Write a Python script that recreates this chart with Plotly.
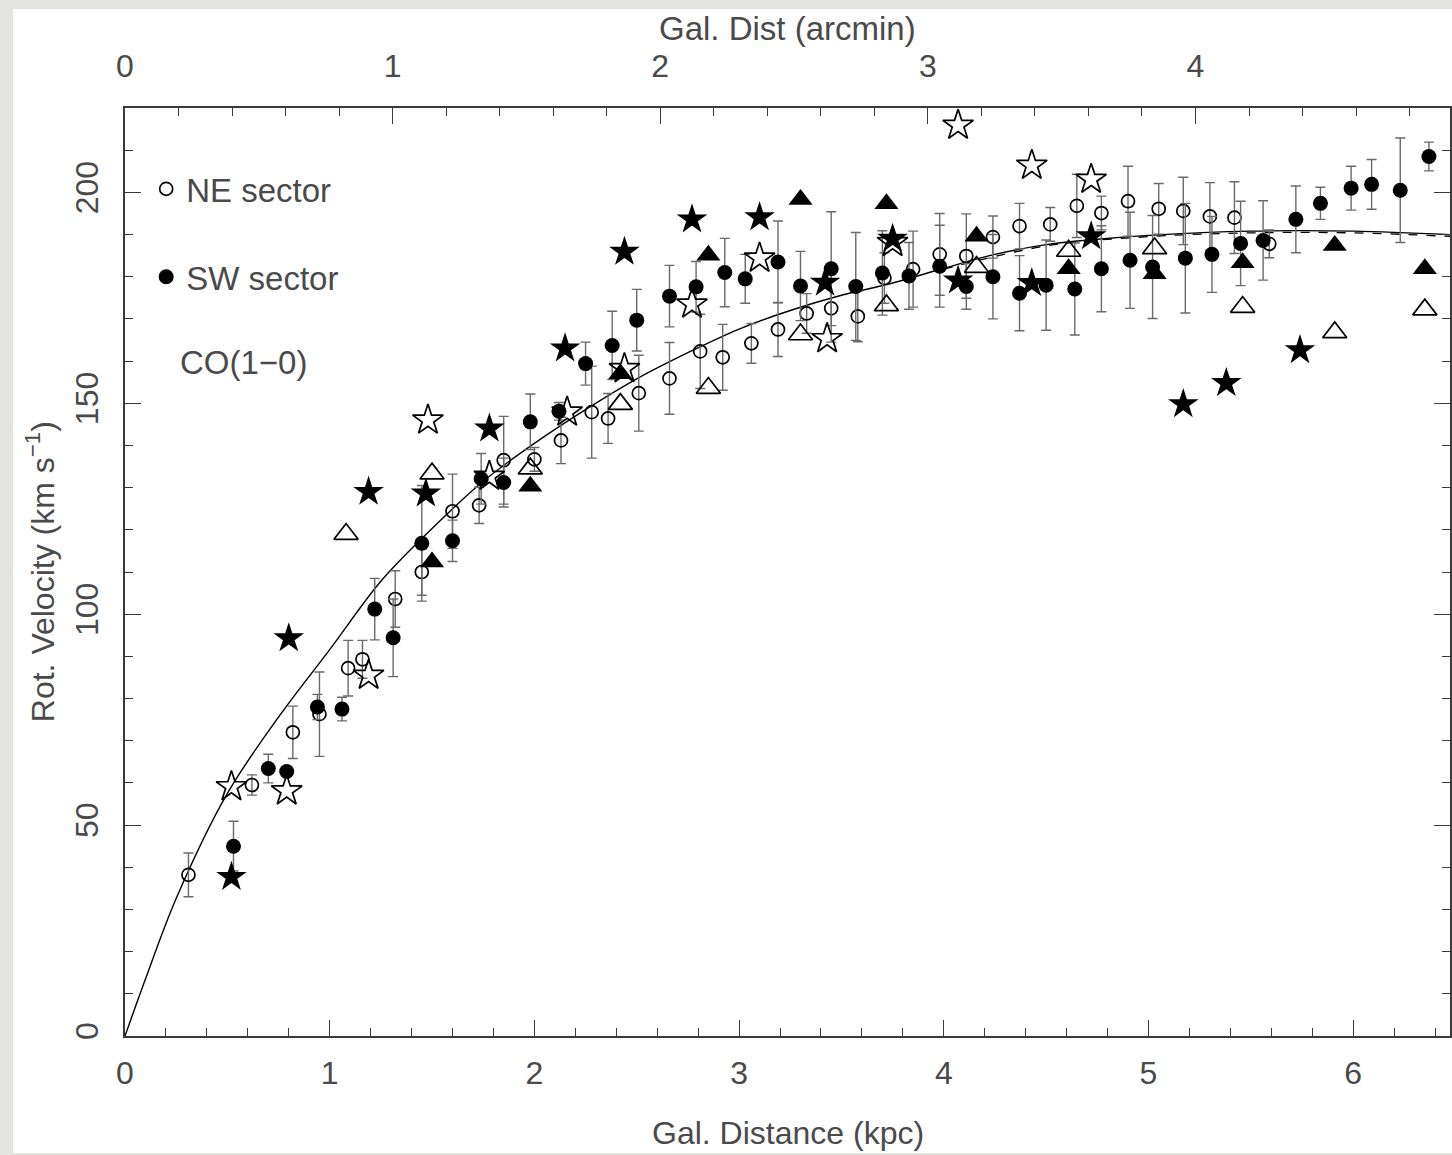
import plotly.graph_objects as go

# ---------------- data ----------------
# Model rotation curve (kpc, km/s)
MODEL_R = [0, 0.1, 0.25, 0.5, 0.75, 1.0, 1.25, 1.5, 1.75, 2.0, 2.25, 2.5, 2.75,
           3.0, 3.25, 3.5, 3.75, 4.0, 4.25, 4.5, 4.75, 5.0, 5.5, 6.0, 6.5]
MODEL_V = [0, 13.5, 32.6, 57.5, 75.6, 91.6, 107.8, 120.3, 131.5, 140.5, 148.5, 155.8, 162.0,
           167.6, 172.0, 175.6, 178.5, 182.0, 185.3, 187.6, 188.9, 189.8, 190.8, 190.8, 189.9]
# second (dashed) model curve, visible only at large radius
DASH_R = [4.0, 4.5, 5.0, 5.5, 6.0, 6.5]
DASH_V = [181.8, 187.3, 189.5, 190.4, 190.4, 189.5]

# NE sector (open circles)
NE_R = [0.31, 0.62, 0.82, 0.95, 1.09, 1.16, 1.32, 1.45, 1.60, 1.73, 1.85, 2.00, 2.13, 2.28,
        2.36, 2.51, 2.66, 2.81, 2.92, 3.06, 3.19, 3.33, 3.45, 3.58, 3.71, 3.85, 3.98, 4.11,
        4.24, 4.37, 4.52, 4.65, 4.77, 4.90, 5.05, 5.17, 5.30, 5.42, 5.59]
NE_V = [38.2, 59.5, 72.0, 76.3, 87.2, 89.3, 103.6, 110.0, 124.4, 125.8, 136.5, 136.7, 141.2,
        147.9, 146.4, 152.4, 155.9, 162.3, 160.9, 164.2, 167.5, 171.3, 172.5, 170.6, 179.7,
        181.8, 185.3, 184.9, 189.4, 192.0, 192.4, 196.8, 195.1, 197.9, 196.1, 195.6, 194.3,
        194.0, 187.8]
NE_E = [5.2, 2.4, 6.2, 10.0, 6.6, 4.5, 6.7, 5.5, 8.8, 4.3, 10.4, 2.8, 5.5, 10.9, 5.9, 9.0,
        8.5, 8.8, 7.8, 4.7, 6.4, 4.7, 8.0, 6.0, 6.0, 9.0, 9.7, 10.0, 5.0, 5.4, 4.0, 7.5, 4.0,
        8.3, 6.0, 8.0, 8.0, 8.5, 3.3]

# SW sector (filled circles)
SW_R = [0.53, 0.70, 0.79, 0.94, 1.06, 1.22, 1.31, 1.45, 1.60, 1.74, 1.85, 1.98, 2.12, 2.25,
        2.38, 2.50, 2.66, 2.79, 2.93, 3.03, 3.19, 3.30, 3.45, 3.57, 3.70, 3.83, 3.98, 4.11,
        4.24, 4.37, 4.50, 4.64, 4.77, 4.91, 5.02, 5.18, 5.31, 5.45, 5.56, 5.72, 5.84, 5.99,
        6.09, 6.23, 6.37]
SW_V = [45.0, 63.4, 62.7, 78.0, 77.5, 101.2, 94.4, 116.8, 117.4, 132.1, 131.2, 145.6, 148.1,
        159.4, 163.7, 169.7, 175.4, 177.6, 181.0, 179.5, 183.5, 177.8, 181.9, 177.7, 180.9,
        180.2, 182.5, 177.7, 180.0, 176.1, 178.0, 177.1, 181.9, 183.9, 182.3, 184.4, 185.3,
        187.9, 188.6, 193.6, 197.4, 201.0, 201.9, 200.5, 208.5]
SW_E = [5.9, 3.4, 0, 3.0, 2.8, 7.3, 9.2, 13.7, 4.9, 6.0, 5.8, 6.6, 2.1, 5.1, 8.1, 7.3, 7.3,
        6.0, 8.1, 5.8, 9.7, 8.2, 13.5, 12.8, 10.0, 7.9, 9.7, 5.4, 10.0, 8.9, 10.7, 10.9, 10.2,
        11.4, 12.2, 13.0, 9.0, 10.0, 9.4, 7.9, 3.8, 5.2, 5.9, 12.4, 3.4]

# filled stars
FS_R = [0.52, 0.80, 1.19, 1.47, 1.78, 2.15, 2.44, 2.77, 3.10, 3.42, 3.75, 4.07, 4.43, 4.72,
        5.17, 5.38, 5.74]
FS_V = [37.7, 94.3, 129.0, 128.6, 144.0, 163.0, 185.9, 193.6, 194.1, 178.6, 189.0, 179.1,
        178.5, 189.6, 149.8, 154.8, 162.6]
# open stars
OS_R = [0.52, 0.79, 1.19, 1.48, 1.78, 2.16, 2.44, 2.77, 3.10, 3.43, 3.75, 4.07, 4.43, 4.72]
OS_V = [59.1, 58.1, 85.5, 146.0, 132.7, 147.9, 158.2, 173.5, 184.4, 165.3, 188.1, 215.9,
        206.4, 203.1]
# filled triangles
FT_R = [1.50, 1.98, 2.42, 2.85, 3.30, 3.72, 4.16, 4.61, 5.03, 5.46, 5.91, 6.35]
FT_V = [112.4, 130.3, 157.0, 185.1, 198.3, 197.3, 189.6, 181.9, 180.7, 183.3, 187.4, 181.9]
# open triangles
OT_R = [1.08, 1.50, 1.98, 2.42, 2.85, 3.30, 3.72, 4.16, 4.61, 5.03, 5.46, 5.91, 6.35]
OT_V = [119.0, 133.3, 134.5, 149.8, 153.6, 166.3, 173.2, 182.3, 186.1, 186.7, 172.8, 166.8,
        172.2]

# axes
KPC_TICKS = [0, 1, 2, 3, 4, 5, 6]
KPC_MAX = 6.473
ARCMIN_TICKS = [0, 1, 2, 3, 4]
ARCMIN_MAX = 4.951
V_TICKS = [0, 50, 100, 150, 200]
V_MAX = 220

# ---------------- styling ----------------
FONT = "Liberation Sans, Arial, DejaVu Sans, sans-serif"
TXT = "#4a4a4a"
AX = "#3a3a3a"
ERR = "#6a6a6a"

fig = go.Figure()

fig.add_trace(go.Scatter(x=MODEL_R, y=MODEL_V, mode="lines", line=dict(color="black", width=1.4, shape="spline"),
                         showlegend=False, hoverinfo="skip"))
fig.add_trace(go.Scatter(x=DASH_R, y=DASH_V, mode="lines", line=dict(color="black", width=1.3, dash="dash", shape="spline"),
                         showlegend=False, hoverinfo="skip"))

fig.add_trace(go.Scatter(x=NE_R, y=NE_V, mode="markers", name="NE sector", legendgroup="ne",
                         marker=dict(symbol="circle-open", size=13, color="black", line=dict(width=1.7)),
                         error_y=dict(type="data", array=NE_E, color=ERR, thickness=1.4, width=5)))
fig.add_trace(go.Scatter(x=SW_R, y=SW_V, mode="markers", name="SW sector", legendgroup="sw",
                         marker=dict(symbol="circle", size=15, color="black"),
                         error_y=dict(type="data", array=SW_E, color=ERR, thickness=1.4, width=5)))
fig.add_trace(go.Scatter(x=FS_R, y=FS_V, mode="markers", showlegend=False,
                         marker=dict(symbol="star", size=23, color="black")))
fig.add_trace(go.Scatter(x=OS_R, y=OS_V, mode="markers", showlegend=False,
                         marker=dict(symbol="star-open", size=23, color="black", line=dict(width=1.7))))
fig.add_trace(go.Scatter(x=FT_R, y=FT_V, mode="markers", showlegend=False,
                         marker=dict(symbol="triangle-up", size=21, color="black")))
fig.add_trace(go.Scatter(x=OT_R, y=OT_V, mode="markers", showlegend=False,
                         marker=dict(symbol="triangle-up-open", size=21, color="black", line=dict(width=1.7))))
# anchor trace for the top (arcmin) axis
fig.add_trace(go.Scatter(x=[ARCMIN_TICKS[0]], y=[V_TICKS[0]], xaxis="x2", yaxis="y", mode="markers",
                         marker=dict(opacity=0), showlegend=False, hoverinfo="skip"))

tickfont = dict(family=FONT, size=32, color=TXT)

fig.update_layout(
    width=1452, height=1155,
    margin=dict(l=125, r=0, t=108, b=119),
    paper_bgcolor="#e3e3e0",
    plot_bgcolor="white",
    font=dict(family=FONT, color=TXT),
    xaxis=dict(range=[0, KPC_MAX], tickvals=KPC_TICKS, ticks="inside", ticklen=16, tickwidth=1.2,
               tickcolor=AX, showline=True, linecolor=AX, linewidth=1.5, showgrid=False, zeroline=False,
               minor=dict(tickmode="linear", tick0=0, dtick=0.2, ticks="inside", ticklen=8, tickcolor=AX),
               tickfont=tickfont, ticklabelstandoff=8),
    xaxis2=dict(overlaying="x", side="top", anchor="y", range=[0, ARCMIN_MAX], tickvals=ARCMIN_TICKS,
                ticks="inside", ticklen=16, tickwidth=1.2, tickcolor=AX, showline=True, linecolor=AX,
                linewidth=1.5, showgrid=False, zeroline=False,
                minor=dict(tickmode="linear", tick0=0, dtick=0.2, ticks="inside", ticklen=8, tickcolor=AX),
                tickfont=tickfont, ticklabelstandoff=16),
    yaxis=dict(range=[0, V_MAX], tickvals=V_TICKS, ticks="inside", ticklen=16, tickwidth=1.2,
               tickcolor=AX, showline=True, linecolor=AX, linewidth=1.5, mirror="ticks",
               showgrid=False, zeroline=False, tickangle=-90,
               minor=dict(tickmode="linear", tick0=0, dtick=10, ticks="inside", ticklen=8, tickcolor=AX),
               tickfont=tickfont, ticklabelstandoff=12),
    legend=dict(x=0.016, y=0.943, xanchor="left", yanchor="top", bgcolor="rgba(0,0,0,0)",
                font=dict(family=FONT, size=33, color=TXT), traceorder="grouped",
                itemwidth=30, tracegroupgap=42),
    showlegend=True,
    shapes=[dict(type="rect", xref="paper", yref="paper", x0=-0.0844, x1=1.01, y0=-0.126, y1=1.1067,
                 fillcolor="white", line=dict(width=0), layer="below")],
    annotations=[
        dict(text="Gal. Distance (kpc)", xref="paper", yref="paper", x=0.5, y=-0.104,
             showarrow=False, font=dict(family=FONT, size=32, color=TXT), xanchor="center", yanchor="middle"),
        dict(text="Gal. Dist (arcmin)", xref="paper", yref="paper", x=0.5, y=1.086,
             showarrow=False, font=dict(family=FONT, size=33, color=TXT), xanchor="center", yanchor="middle"),
        dict(text="Rot. Velocity (km s<sup>−1</sup>)", xref="paper", yref="paper", x=-0.064, y=0.5,
             textangle=-90, showarrow=False, font=dict(family=FONT, size=32, color=TXT),
             xanchor="center", yanchor="middle"),
        dict(text="CO(1−0)", xref="paper", yref="paper", x=0.040, y=0.726, showarrow=False,
             font=dict(family=FONT, size=33, color=TXT), xanchor="left", yanchor="middle"),
    ],
)

fig.write_html("out.html")
